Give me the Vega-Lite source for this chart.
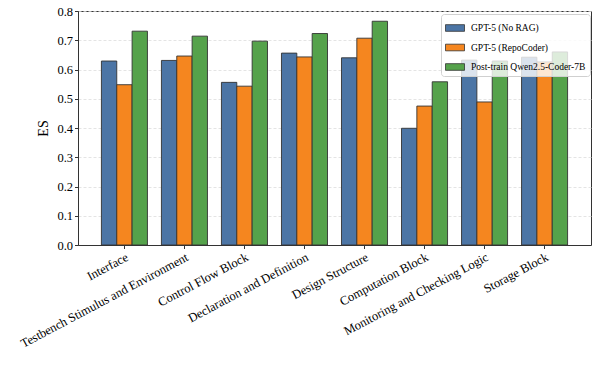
{
  "$schema": "https://vega.github.io/schema/vega-lite/v6.json",
  "width": 513,
  "height": 234,
  "autosize": "none",
  "padding": {"left": 78, "top": 11, "right": 7, "bottom": 128},
  "config": {
    "font": "Liberation Serif",
    "view": {"stroke": "#333333", "strokeWidth": 1},
    "axis": {"labelFont": "Liberation Serif", "titleFont": "Liberation Serif", "labelColor": "#000", "titleColor": "#000", "domainColor": "#333", "tickColor": "#333"},
    "legend": {"labelFont": "Liberation Serif"}
  },
  "data": {
    "values": [
      {"category": "Interface", "model": "GPT-5 (No RAG)", "es": 0.629},
      {"category": "Interface", "model": "GPT-5 (RepoCoder)", "es": 0.548},
      {"category": "Interface", "model": "Post-train Qwen2.5-Coder-7B", "es": 0.731},
      {"category": "Testbench Stimulus and Environment", "model": "GPT-5 (No RAG)", "es": 0.631},
      {"category": "Testbench Stimulus and Environment", "model": "GPT-5 (RepoCoder)", "es": 0.646},
      {"category": "Testbench Stimulus and Environment", "model": "Post-train Qwen2.5-Coder-7B", "es": 0.714},
      {"category": "Control Flow Block", "model": "GPT-5 (No RAG)", "es": 0.556},
      {"category": "Control Flow Block", "model": "GPT-5 (RepoCoder)", "es": 0.543},
      {"category": "Control Flow Block", "model": "Post-train Qwen2.5-Coder-7B", "es": 0.697},
      {"category": "Declaration and Definition", "model": "GPT-5 (No RAG)", "es": 0.656},
      {"category": "Declaration and Definition", "model": "GPT-5 (RepoCoder)", "es": 0.643},
      {"category": "Declaration and Definition", "model": "Post-train Qwen2.5-Coder-7B", "es": 0.723},
      {"category": "Design Structure", "model": "GPT-5 (No RAG)", "es": 0.640},
      {"category": "Design Structure", "model": "GPT-5 (RepoCoder)", "es": 0.707},
      {"category": "Design Structure", "model": "Post-train Qwen2.5-Coder-7B", "es": 0.765},
      {"category": "Computation Block", "model": "GPT-5 (No RAG)", "es": 0.399},
      {"category": "Computation Block", "model": "GPT-5 (RepoCoder)", "es": 0.475},
      {"category": "Computation Block", "model": "Post-train Qwen2.5-Coder-7B", "es": 0.558},
      {"category": "Monitoring and Checking Logic", "model": "GPT-5 (No RAG)", "es": 0.632},
      {"category": "Monitoring and Checking Logic", "model": "GPT-5 (RepoCoder)", "es": 0.489},
      {"category": "Monitoring and Checking Logic", "model": "Post-train Qwen2.5-Coder-7B", "es": 0.629},
      {"category": "Storage Block", "model": "GPT-5 (No RAG)", "es": 0.642},
      {"category": "Storage Block", "model": "GPT-5 (RepoCoder)", "es": 0.626},
      {"category": "Storage Block", "model": "Post-train Qwen2.5-Coder-7B", "es": 0.66}
    ]
  },
  "mark": {"type": "bar", "stroke": "#333333", "strokeWidth": 0.9},
  "encoding": {
    "x": {
      "field": "category", "type": "nominal", "sort": null,
      "scale": {"paddingInner": 0.233, "paddingOuter": 0.39},
      "axis": {"title": null, "labelAngle": -28, "labelAlign": "right", "labelBaseline": "top", "labelFontSize": 12.5, "labelPadding": 2, "tickSize": 3.5, "labelLimit": 300}
    },
    "xOffset": {"field": "model", "type": "nominal", "sort": ["GPT-5 (No RAG)", "GPT-5 (RepoCoder)", "Post-train Qwen2.5-Coder-7B"], "scale": {"paddingInner": 0, "paddingOuter": 0}},
    "y": {
      "field": "es", "type": "quantitative",
      "scale": {"domain": [0, 0.8], "nice": false},
      "axis": {"title": "ES", "titleFontSize": 14, "titleFontWeight": "normal", "titlePadding": 6, "values": [0, 0.1, 0.2, 0.3, 0.4, 0.5, 0.6, 0.7, 0.8], "format": ".1f", "labelFontSize": 12.5, "tickSize": 3.5, "labelPadding": 2, "grid": true, "gridDash": [3, 2], "gridColor": "#dddddd", "gridWidth": 0.8}
    },
    "color": {
      "field": "model", "type": "nominal",
      "sort": ["GPT-5 (No RAG)", "GPT-5 (RepoCoder)", "Post-train Qwen2.5-Coder-7B"],
      "scale": {"range": ["#4c75a5", "#f5861f", "#55a24b"]},
      "legend": {
        "title": null, "orient": "none", "legendX": 363, "legendY": 3,
        "labelFontSize": 9.5,
        "symbolType": "M-1,-0.35H1V0.35H-1Z", "symbolSize": 361, "symbolStrokeColor": "#333", "symbolStrokeWidth": 0.8,
        "padding": 4, "rowPadding": 4.5, "labelOffset": 6, "strokeColor": "#d0d0d0", "fillColor": "rgba(255,255,255,0.8)", "cornerRadius": 3, "symbolOpacity": 1
      }
    }
  }
}
